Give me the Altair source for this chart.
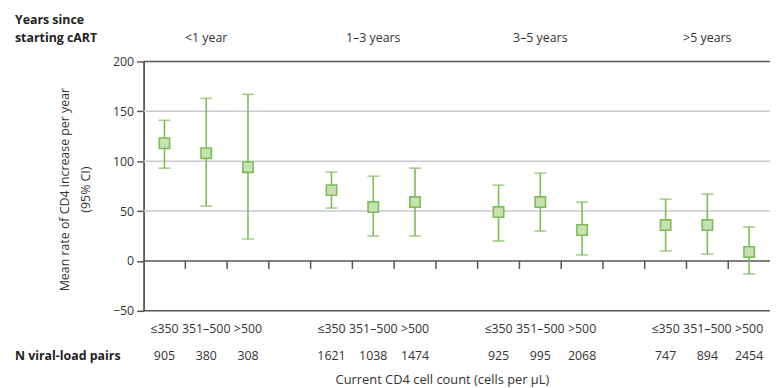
import altair as alt
import pandas as pd

groups = ["<1 year", "1–3 years", "3–5 years", ">5 years"]
cd4_categories = ["≤350", "351–500", ">500"]
means = [118, 108, 94, 71, 54, 59, 49, 59, 31, 36, 36, 9]
ci_lower = [93, 55, 22, 53, 25, 25, 20, 30, 6, 10, 7, -13]
ci_upper = [141, 163, 167, 89, 85, 93, 76, 88, 59, 62, 67, 34]
n_pairs = [905, 380, 308, 1621, 1038, 1474, 925, 995, 2068, 747, 894, 2454]
y_ticks = [-50, 0, 50, 100, 150, 200]
light_grid = [50, 100, 150]
dark_lines = [-50, 0, 200]

FONT = "Open Sans"
GREEN = "#7cbd55"
FILL = "#c8e1b3"
DARK = "#555555"
TEXT = "#333333"

rows = []
for g, grp in enumerate(groups):
    for c, cat in enumerate(cd4_categories):
        i = g * 3 + c
        rows.append(dict(slot=g * 4 + c, group=grp, cat=cat, mean=means[i],
                         lo=ci_lower[i], hi=ci_upper[i], n=str(n_pairs[i])))
df = pd.DataFrame(rows)
group_df = pd.DataFrame({"slot": [g * 4 + 1 for g in range(4)], "label": groups})
tick_df = pd.DataFrame({"x": [s + 0.5 for s in range(14)], "y0": [0] * 14, "y1": [-8] * 14})
light_df = pd.DataFrame({"y": light_grid})
dark_df = pd.DataFrame({"y": dark_lines})

xs = alt.Scale(domain=[-0.5, 14.5], nice=False, zero=False)
ys = alt.Scale(domain=[-50, 200], nice=False, zero=False)

X = lambda f: alt.X(f, type="quantitative", scale=xs, axis=None)

light = alt.Chart(light_df).mark_rule(color="#c6cbd1", strokeWidth=1.6).encode(
    y=alt.Y("y:Q", scale=ys, axis=alt.Axis(
        values=y_ticks, grid=False, tickSize=7, tickColor=DARK, tickWidth=1.5,
        domainColor=DARK, domainWidth=1.8, labelFont=FONT, labelFontSize=12.5,
        labelColor=TEXT, labelPadding=3,
        title=["Mean rate of CD4 increase per year", "(95% CI)"],
        titleFont=FONT, titleFontSize=12.5, titleFontWeight="normal", titleColor=TEXT,
        titleAngle=270, titleX=-80, titleY=129, titleAlign="center",
        titleBaseline="middle", titleLineHeight=21)),
    x=alt.value(0), x2=alt.value(633))

dark = alt.Chart(dark_df).mark_rule(color=DARK, strokeWidth=1.6).encode(
    y=alt.Y("y:Q", scale=ys, axis=None), x=alt.value(0), x2=alt.value(633))

ticks = alt.Chart(tick_df).mark_rule(color=DARK, strokeWidth=1.5).encode(
    x=X("x"), y=alt.Y("y0:Q", scale=ys, axis=None), y2="y1:Q")

bars = alt.Chart(df).mark_rule(color=GREEN, strokeWidth=1.6).encode(
    x=X("slot"), y=alt.Y("lo:Q", scale=ys, axis=None), y2="hi:Q")

cap_lo = alt.Chart(df).mark_tick(color=GREEN, orient="horizontal", size=12, thickness=1.6).encode(
    x=X("slot"), y=alt.Y("lo:Q", scale=ys, axis=None))
cap_hi = alt.Chart(df).mark_tick(color=GREEN, orient="horizontal", size=12, thickness=1.6).encode(
    x=X("slot"), y=alt.Y("hi:Q", scale=ys, axis=None))

points = alt.Chart(df).mark_square(size=110, filled=True, fill=FILL, stroke=GREEN,
                                   strokeWidth=1.6, opacity=1).encode(
    x=X("slot"), y=alt.Y("mean:Q", scale=ys, axis=None))

cat_text = alt.Chart(df).mark_text(font=FONT, fontSize=12.5, color=TEXT, baseline="alphabetic").encode(
    x=X("slot"), y=alt.value(274), text="cat:N")
n_text = alt.Chart(df).mark_text(font=FONT, fontSize=12.5, color=TEXT, baseline="alphabetic").encode(
    x=X("slot"), y=alt.value(302), text="n:N")
grp_text = alt.Chart(group_df).mark_text(font=FONT, fontSize=12.5, color=TEXT, baseline="alphabetic").encode(
    x=X("slot"), y=alt.value(-20), text="label:N")

hdr_df = pd.DataFrame({"t": ["Years since", "starting cART", "N viral-load pairs",
                             "Current CD4 cell count (cells per µL)"]})
def fixed_text(label, x, y, bold=True, align="left", size=12.5):
    return alt.Chart(hdr_df).transform_filter(alt.datum.t == label).mark_text(
        font=FONT, fontSize=size, fontWeight="bold" if bold else "normal",
        color="#222222" if bold else TEXT, align=align, baseline="alphabetic").encode(
        x=alt.value(x), y=alt.value(y), text="t:N")

hdr1 = fixed_text("Years since", -130, -38)
hdr2 = fixed_text("starting cART", -130, -20)
hdr3 = fixed_text("N viral-load pairs", -130, 302)
xtitle = fixed_text("Current CD4 cell count (cells per µL)", 302, 326, bold=False,
                    align="center", size=13)

chart = alt.layer(light, dark, ticks, bars, cap_lo, cap_hi, points, cat_text, n_text,
                  grp_text, hdr1, hdr2, hdr3, xtitle).resolve_axis(y="independent").properties(
    width=633, height=252,
    autosize=alt.AutoSizeParams(type="none"),
    padding={"left": 137, "top": 52, "right": 0, "bottom": 76},
    background="white",
).configure_view(stroke=None)

chart.save("out.html", embed_options={"renderer": "svg", "actions": False})
